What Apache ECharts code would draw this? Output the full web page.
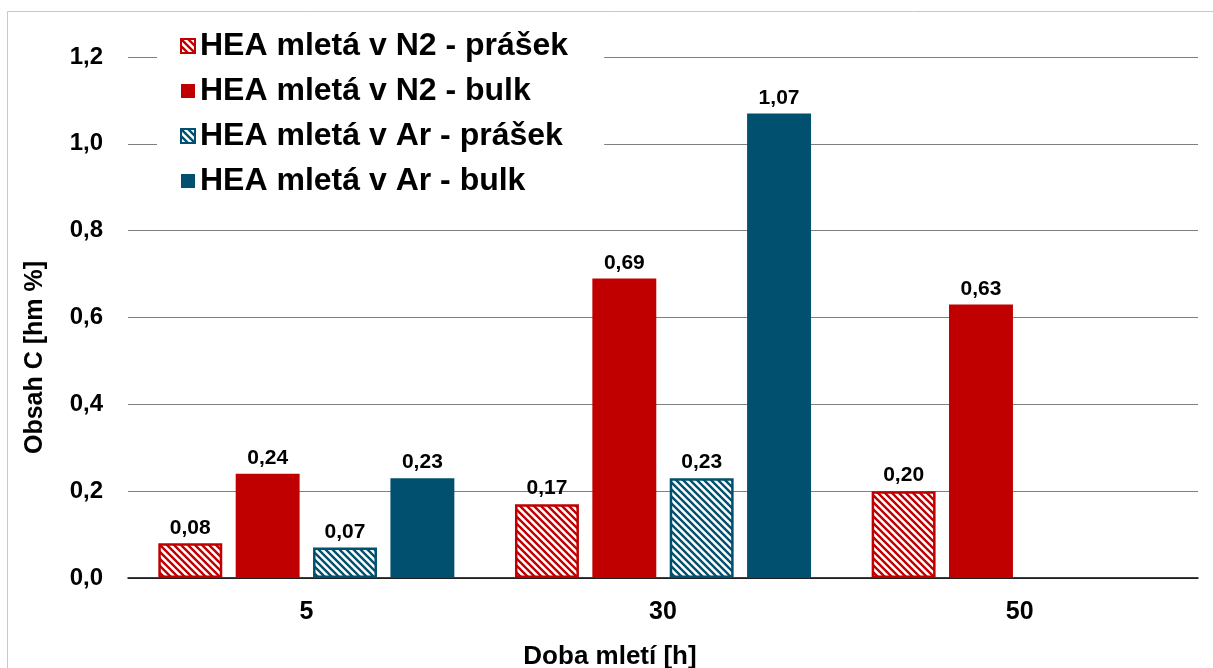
<!DOCTYPE html>
<html>
<head>
<meta charset="utf-8">
<script src="https://cdn.jsdelivr.net/npm/echarts@6/dist/echarts.min.js"></script>
<style>html,body{margin:0;padding:0;background:#fff;overflow:hidden}#c{width:1213px;height:668px}</style>
</head>
<body>
<div id="c"></div>
<script>
const categories = ['5', '30', '50'];
const seriesNames = ['HEA mletá v N2 - prášek', 'HEA mletá v N2 - bulk', 'HEA mletá v Ar - prášek', 'HEA mletá v Ar - bulk'];
const n2Prasek = [0.08, 0.17, 0.20];
const n2Bulk = [0.24, 0.69, 0.63];
const arPrasek = [0.07, 0.23, null];
const arBulk = [0.23, 1.07, null];
const yTicks = [0, 0.2, 0.4, 0.6, 0.8, 1.0, 1.2];

const RED = '#C00000';
const BLUE = '#02506F';

function hatch(color) {
  const s = 7;
  const c = document.createElement('canvas');
  c.width = s; c.height = s;
  const g = c.getContext('2d');
  g.fillStyle = '#fff';
  g.fillRect(0, 0, s, s);
  g.strokeStyle = color;
  g.lineWidth = 2.4;
  g.beginPath();
  g.moveTo(-1, -1); g.lineTo(s + 1, s + 1);
  g.moveTo(-1, s - 1); g.lineTo(1, s + 1);
  g.moveTo(s - 1, -1); g.lineTo(s + 1, 1);
  g.stroke();
  return { image: c, repeat: 'repeat' };
}

const fmt2 = v => (v == null ? '' : v.toFixed(2).replace('.', ','));
const fmt1 = v => v.toFixed(1).replace('.', ',');

const font = 'Liberation Sans, Arial, sans-serif';

function bar(name, data, color, hatched) {
  return {
    name: name,
    type: 'bar',
    data: data,
    barGap: '21%',
    barCategoryGap: '17%',
    itemStyle: hatched
      ? { color: hatch(color), borderColor: color, borderWidth: 2.5 }
      : { color: color },
    label: {
      show: true,
      position: 'top',
      distance: 5,
      formatter: p => fmt2(p.value),
      fontFamily: font,
      fontWeight: 'bold',
      fontSize: 21,
      color: '#000'
    }
  };
}

const chart = echarts.init(document.getElementById('c'), null, { renderer: 'canvas', width: 1213, height: 668 });
chart.setOption({
  animation: false,
  backgroundColor: '#fff',
  graphic: [{
    type: 'rect',
    shape: { x: 7.5, y: 11.5, width: 1300, height: 800 },
    style: { fill: 'none', stroke: '#c8c8c8', lineWidth: 1 },
    z: -10
  }],
  grid: { left: 128, right: 15, top: 57, bottom: 90, containLabel: false, outerBoundsMode: 'none' },
  legend: {
    orient: 'vertical',
    left: 157,
    top: 22,
    padding: [8, 36, 10, 23],
    backgroundColor: '#fff',
    itemWidth: 14,
    itemHeight: 14,
    itemGap: 13,
    z: 10,
    data: seriesNames.map(n => ({ name: n, icon: 'rect' })),
    textStyle: { fontFamily: font, fontWeight: 'bold', fontSize: 32, lineHeight: 30, color: '#000', padding: [0, 0, 0, 0] }
  },
  xAxis: {
    type: 'category',
    data: categories,
    name: 'Doba mletí [h]',
    nameLocation: 'middle',
    nameGap: 66,
    nameTextStyle: { fontFamily: font, fontWeight: 'bold', fontSize: 26, color: '#000', padding: [0, 106, 0, 0] },
    axisLine: { lineStyle: { color: '#000', width: 1.5 } },
    axisTick: { show: false },
    axisLabel: { fontFamily: font, fontWeight: 'bold', fontSize: 25, color: '#000', margin: 22 }
  },
  yAxis: {
    type: 'value',
    min: 0,
    max: 1.2,
    interval: 0.2,
    name: 'Obsah C [hm %]',
    nameLocation: 'middle',
    nameGap: 80,
    nameTextStyle: { fontFamily: font, fontWeight: 'bold', fontSize: 25, color: '#000', padding: [0, 80, 0, 0] },
    axisLine: { show: false },
    axisTick: { show: false },
    splitLine: { lineStyle: { color: '#7f7f7f', width: 1.2 } },
    axisLabel: {
      fontFamily: font, fontWeight: 'bold', fontSize: 24, color: '#000', margin: 25,
      formatter: v => (yTicks.some(t => Math.abs(t - v) < 1e-9) ? fmt1(v) : '')
    }
  },
  series: [
    bar(seriesNames[0], n2Prasek, RED, true),
    bar(seriesNames[1], n2Bulk, RED, false),
    bar(seriesNames[2], arPrasek, BLUE, true),
    bar(seriesNames[3], arBulk, BLUE, false)
  ]
});
</script>
</body>
</html>
